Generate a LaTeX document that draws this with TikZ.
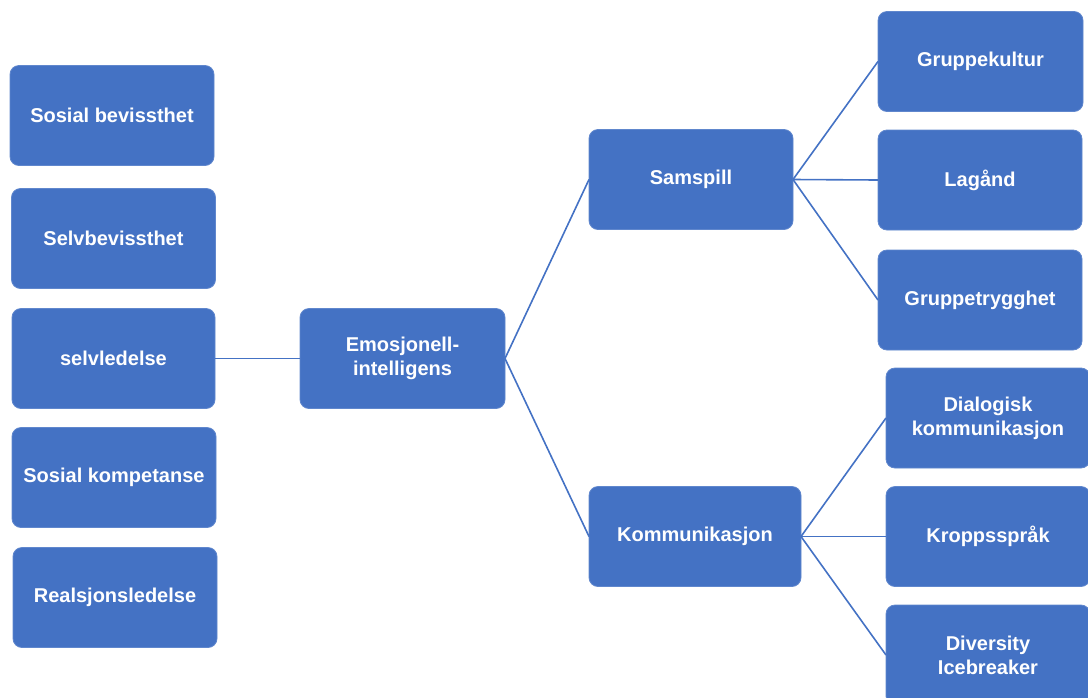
\documentclass[tikz,border=0pt]{standalone}
\usepackage{fontspec}
\setmainfont{Liberation Sans}
\definecolor{boxblue}{HTML}{4472C4}
\begin{document}
\begin{tikzpicture}[x=1pt,y=-1pt,
  box/.style={rectangle, rounded corners=9pt, fill=boxblue, draw=boxblue!85!white, line width=0.8pt,
    text=white, font=\bfseries\fontsize{20}{24}\selectfont, align=center,
    inner sep=0pt, outer sep=0pt, minimum width=#1, minimum height=100pt},
  box/.default=204pt,
  conn/.style={draw=boxblue, line width=1.6pt}]
\useasboundingbox (0,0) rectangle (1088,697);
\clip (0,0) rectangle (1088,697);
% left column
\node[box] (sb) at (112,115.5) {Sosial bevissthet};
\node[box] (selvb) at (113.5,238.5) {Selvbevissthet};
\node[box=203pt] (selvl) at (113.5,358.5) {selvledelse};
\node[box] (sk) at (114,477.5) {Sosial kompetanse};
\node[box] (rl) at (115,597.5) {Realsjonsledelse};
% centre
\node[box=205pt] (emo) at (402.5,358.5) {Emosjonell-\\intelligens};
\node[box] (sam) at (691,179.5) {Samspill};
\node[box=212pt] (kom) at (695,536.5) {Kommunikasjon};
% right column
\node[box=205pt] (gk) at (980.5,61.5) {Gruppekultur};
\node[box] (la) at (980,180) {Lagånd};
\node[box] (gt) at (980,300) {Gruppetrygghet};
\node[box] (dk) at (988,418) {Dialogisk\\kommunikasjon};
\node[box] (kr) at (988,536.5) {Kroppsspråk};
\node[box] (di) at (988,655) {Diversity\\Icebreaker};
% connectors
\draw[conn] (selvl.east) -- (emo.west);
\draw[conn] (emo.east) -- (sam.west);
\draw[conn] (emo.east) -- (kom.west);
\draw[conn] (sam.east) -- (gk.west);
\draw[conn] (sam.east) -- (la.west);
\draw[conn] (sam.east) -- (gt.west);
\draw[conn] (kom.east) -- (dk.west);
\draw[conn] (kom.east) -- (kr.west);
\draw[conn] (kom.east) -- (di.west);
\end{tikzpicture}
\end{document}
